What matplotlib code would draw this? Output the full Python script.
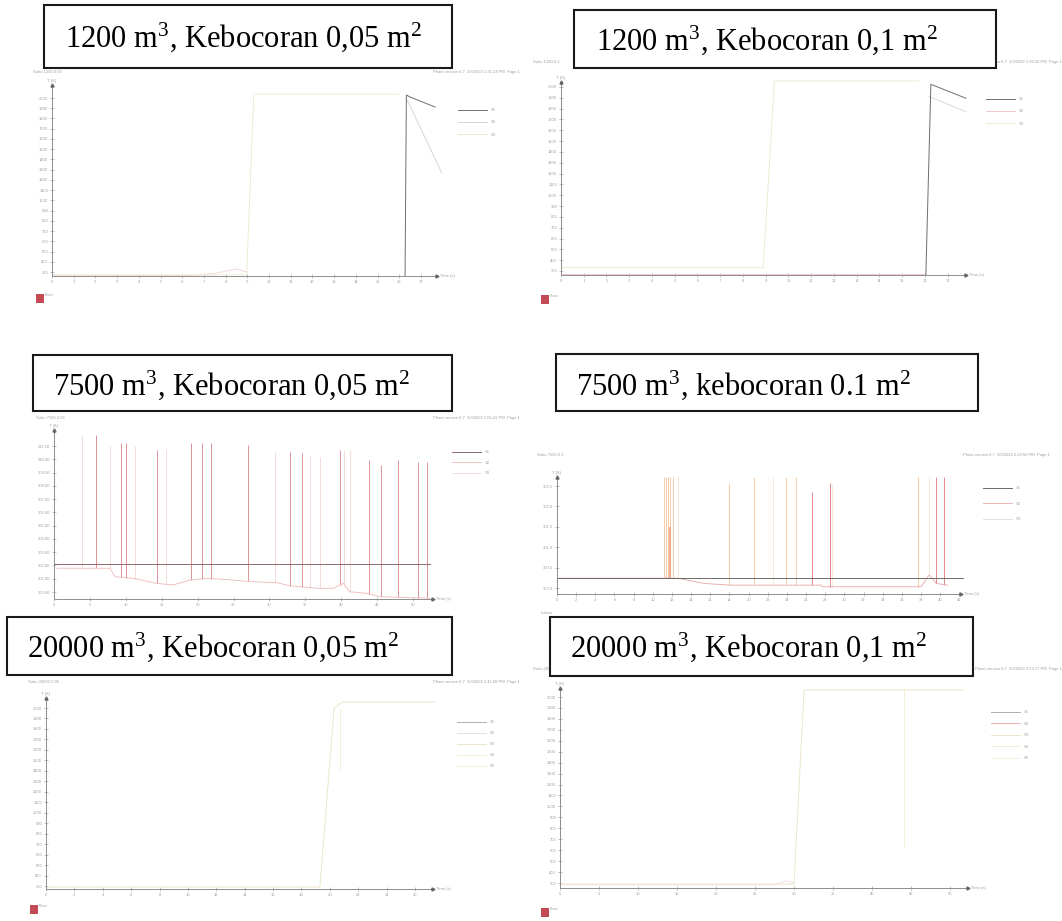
import matplotlib
matplotlib.use('Agg')
import matplotlib.pyplot as plt
from matplotlib.patches import Rectangle
import numpy as np

plt.rcParams['font.family'] = ['Liberation Sans', 'DejaVu Sans']
plt.rcParams['mathtext.fontset'] = 'custom'
plt.rcParams['mathtext.rm'] = 'Liberation Serif'
plt.rcParams['mathtext.it'] = 'Liberation Serif:italic'
plt.rcParams['mathtext.default'] = 'rm'

# ===================== DATA =====================
titles = [r"1200 m$^{\mathrm{3}}$, Kebocoran 0,05 m$^{\mathrm{2}}$",
          r"1200 m$^{\mathrm{3}}$, Kebocoran 0,1 m$^{\mathrm{2}}$",
          r"7500 m$^{\mathrm{3}}$, Kebocoran 0,05 m$^{\mathrm{2}}$",
          r"7500 m$^{\mathrm{3}}$, kebocoran 0.1 m$^{\mathrm{2}}$",
          r"20000 m$^{\mathrm{3}}$, Kebocoran 0,05 m$^{\mathrm{2}}$",
          r"20000 m$^{\mathrm{3}}$, Kebocoran 0,1 m$^{\mathrm{2}}$"]

temp_ticks = list(range(300, 2001, 100))

# Panel 1 : 1200 m3, 0,05 m2
p1_xticks = list(range(0, 18))
p1_s1_t = [16.27, 16.33, 16.5, 17.65]
p1_s1_T = [262, 2029, 2010, 1912]
p1_s2_t = [16.37, 17.96]
p1_s2_T = [1980, 1268]
p1_s3_t = [0, 8.97, 9.3, 16.0]
p1_s3_T = [272, 272, 2039, 2039]
p1_red_t = [0, 6.3, 7.5, 8.5, 9.0]
p1_red_T = [262, 265, 285, 330, 300]

# Panel 2 : 1200 m3, 0,1 m2
p2_xticks = list(range(0, 18))
p2_s1_t = [16.04, 16.26, 17.8]
p2_s1_T = [263, 2025, 1896]
p2_s2_t = [0, 16.0]
p2_s2_T = [272, 272]
p2_s3_t = [0, 8.89, 9.38, 15.75]
p2_s3_T = [330, 330, 2055, 2055]
p2_s3b_t = [16.19, 17.8]
p2_s3b_T = [1911, 1772]

# Panel 3 : 7500 m3, 0,05 m2
p3_xticks = list(range(0, 51, 5))
p3_yticks = list(range(300, 312))
p3_line_t = [0, 52.4]
p3_line_T = [302.1, 302.1]
p3_base_t = [0.4, 7.8, 8.5, 11.05, 14.3, 16.6, 18.9, 21.3, 25.0, 27.3, 31.0,
             32.9, 36.6, 38.9, 40.3, 41.2, 43.5, 45.4, 52.4]
p3_base_T = [301.79, 301.79, 301.15, 301.03, 300.65, 300.53, 300.9, 301.03,
             300.9, 300.78, 300.7, 300.47, 300.28, 300.28, 300.65, 300.02,
             299.9, 299.65, 299.53]
p3_spike_t = [5.85, 9.35, 10.05, 14.35, 19.1, 20.6, 21.85, 27.0, 32.85, 34.55,
              39.85, 43.9, 45.55, 47.9, 50.7, 51.95]
p3_spike_top = [311.83, 311.2, 311.2, 310.7, 311.2, 311.2, 311.2, 311.1,
                310.57, 310.45, 310.7, 309.95, 309.57, 309.95, 309.82, 309.82]
p3_faint_t = [3.9, 7.8, 11.3, 15.6, 30.8, 35.65, 37.05, 40.4, 41.25]
p3_faint_top = [311.83, 311.0, 311.0, 310.7, 310.57, 310.3, 310.2, 310.7, 310.7]

# Panel 4 : 7500 m3, 0.1 m2
p4_xticks = list(range(0, 43, 2))
p4_yticks = [300.0, 300.5, 301.0, 301.5, 302.0, 302.5]
p4_line_t = [0, 42.35]
p4_line_T = [300.245, 300.245]
p4_base_t = [0, 12.6, 15.4, 18.2, 27.6, 27.7, 38.0, 38.86, 39.6, 40.8]
p4_base_T = [300.24, 300.24, 300.11, 300.07, 300.07, 300.03, 300.03, 300.32,
             300.11, 300.07]
p4_orange_t = [11.14, 11.38, 11.62, 11.82, 12.06, 17.98, 20.52, 23.9, 25.0, 37.64]
p4_orange_top = [302.73, 302.73, 302.73, 302.73, 302.73, 302.57, 302.73,
                 302.73, 302.73, 302.73]
p4_red_t = [26.6, 28.48, 39.54, 40.42]
p4_red_top = [302.36, 302.57, 302.73, 302.73]
p4_faint_t = [12.6, 22.5, 28.76, 38.86]
p4_faint_top = [302.73, 302.73, 302.57, 302.73]
p4_dark_t = [11.82]
p4_dark_top = [301.5]

# Panel 5 : 20000 m3, 0,05 m2
p5_xticks = list(range(0, 27, 2))
p5_s3_t = [0, 19.3, 20.3, 20.9, 27.4]
p5_s3_T = [290, 290, 2000, 2057, 2057]
p5_s4_t = [20.7, 20.7]
p5_s4_T = [2000, 1408]

# Panel 6 : 20000 m3, 0,1 m2
p6_xticks = list(range(0, 51, 5))
p6_s3_t = [0, 30.0, 31.3, 51.8]
p6_s3_T = [290, 290, 2064, 2064]
p6_s4_t = [44.1, 44.1]
p6_s4_T = [2064, 632]
p6_red_t = [0, 27.5, 29.0, 30.0]
p6_red_T = [285, 285, 320, 300]

legend3 = ["S1", "S2", "S3"]
legend5 = ["S1", "S2", "S3", "S4", "S5"]

# ===================== LAYOUT =====================
W, H = 1062, 921
fig = plt.figure(figsize=(W / 100, H / 100), dpi=100)
fig.patch.set_facecolor('white')

AX_C = '#8e8e8e'
TXT_C = '#a0a0a0'
FS = 3.0


def fx(px):
    return px / W


def fy(py):
    return 1 - py / H


def make_panel(box, xcal, ycal, arrow_r, arrow_t, xticks, yticks, yfmt):
    left, top, right, bottom = box
    ax = fig.add_axes([fx(left), fy(bottom), fx(right) - fx(left), fy(top) - fy(bottom)])
    ax.patch.set_alpha(0)

    def xv(p):
        p0, v0, p1, v1 = xcal
        return v0 + (p - p0) * (v1 - v0) / (p1 - p0)

    def yv(p):
        p0, v0, p1, v1 = ycal
        return v0 + (p - p0) * (v1 - v0) / (p1 - p0)

    x0, x1 = xv(left), xv(right)
    y0, y1 = yv(bottom), yv(top)
    ax.set_xlim(x0, x1)
    ax.set_ylim(y0, y1)
    for s in ('top', 'right'):
        ax.spines[s].set_visible(False)
    for s in ('left', 'bottom'):
        ax.spines[s].set_color(AX_C)
        ax.spines[s].set_linewidth(0.7)
    ax.spines['left'].set_bounds(y0, yv(arrow_t))
    ax.spines['bottom'].set_bounds(x0, xv(arrow_r))
    ax.plot([xv(arrow_r)], [y0], marker='>', ms=2.2, color='#666', clip_on=False, zorder=5)
    ax.plot([x0], [yv(arrow_t)], marker='^', ms=2.2, color='#666', clip_on=False, zorder=5)
    ax.set_xticks(xticks)
    ax.set_xticklabels([str(v) for v in xticks])
    ax.set_yticks(yticks)
    ax.set_yticklabels([yfmt % v for v in yticks])
    ax.tick_params(labelsize=FS, colors=AX_C, labelcolor=TXT_C, length=2.5,
                   width=0.4, direction='inout', pad=1.5)
    ax.text(xv(arrow_r + 3), y0, 'Time (s)', fontsize=FS, color=TXT_C,
            va='center', ha='left', clip_on=False)
    ax.text(x0, yv(arrow_t - 2), 'T (K)', fontsize=FS, color=TXT_C,
            va='bottom', ha='center', clip_on=False)
    return ax


def title_box(x0, y0, x1, y1, tx, ty, text):
    fig.add_artist(Rectangle((fx(x0), fy(y1)), fx(x1) - fx(x0), fy(y0) - fy(y1),
                             transform=fig.transFigure, facecolor='white',
                             edgecolor='#1a1a1a', linewidth=1.5, zorder=10))
    fig.text(fx(tx), fy(ty), text, fontsize=22, family='Liberation Serif',
             color='black', ha='left', va='baseline', zorder=11)


def header(lx, rx, y, ltxt, rtxt):
    fig.text(fx(lx), fy(y), ltxt, fontsize=FS, color=TXT_C, ha='left', va='center', zorder=1)
    fig.text(fx(rx), fy(y), rtxt, fontsize=FS, color=TXT_C, ha='right', va='center', zorder=1)


def logo(x, y):
    fig.add_artist(Rectangle((fx(x), fy(y + 9)), fx(8), 9 / H, transform=fig.transFigure,
                             facecolor='#c24a55', edgecolor='none', zorder=2))
    fig.text(fx(x + 9), fy(y + 1), 'Phast', fontsize=2.4, color=TXT_C, va='center', zorder=2)


def legend(ax, handles, labels, x, y, spacing=2.0):
    ax.legend(handles, labels, loc='upper left', bbox_to_anchor=(fx(x), fy(y)),
              bbox_transform=fig.transFigure, frameon=False, fontsize=FS,
              labelcolor=TXT_C, handlelength=7, labelspacing=spacing,
              handletextpad=0.8, borderpad=0, borderaxespad=0)


LW = 0.7

# ---------- Panel 1 ----------
ax1 = make_panel((52, 78, 455, 276), (52, 0, 420.9, 17), (272, 300, 98, 2000),
                 437, 85, p1_xticks, temp_ticks, '%d')
ax1.plot(p1_red_t, p1_red_T, color='#f6d8d8', lw=LW)
h3, = ax1.plot(p1_s3_t, p1_s3_T, color='#efe9d2', lw=LW)
h2, = ax1.plot(p1_s2_t, p1_s2_T, color='#d6d6d6', lw=LW)
h1, = ax1.plot(p1_s1_t, p1_s1_T, color='#6e6e6e', lw=LW)
legend(ax1, [h1, h2, h3], legend3, 458, 108)
header(33, 520, 72, 'Suhu 1200-0.05', 'Phast version 6.7  3/3/2022 1:31:23 PM  Page 1')
logo(36, 294)

# ---------- Panel 2 ----------
ax2 = make_panel((561, 75, 975, 275), (561, 0, 947.7, 17), (271, 300, 87, 2000),
                 966, 82, p2_xticks, temp_ticks, '%d')
h2, = ax2.plot(p2_s2_t, p2_s2_T, color='#f3c8c8', lw=LW)
h3, = ax2.plot(p2_s3_t, p2_s3_T, color='#efe9d4', lw=LW)
ax2.plot(p2_s3b_t, p2_s3b_T, color='#dcdcd0', lw=LW)
h1, = ax2.plot(p2_s1_t, p2_s1_T, color='#6e6e6e', lw=LW)
legend(ax2, [h1, h2, h3], legend3, 986, 97)
header(533, 1062, 62, 'Suhu 1200-0.1', 'Phast version 6.7  3/3/2022 1:36:02 PM  Page 1')
logo(541, 295)

# ---------- Panel 3 ----------
ax3 = make_panel((54, 425, 440, 599), (54, 0, 413, 50), (592, 300, 446, 311),
                 433, 430, p3_xticks, p3_yticks, '%.2f')
ax3.vlines(p3_faint_t, np.interp(p3_faint_t, p3_base_t, p3_base_T), p3_faint_top,
           colors='#f5d6d2', lw=0.6)
ax3.vlines(p3_spike_t, np.interp(p3_spike_t, p3_base_t, p3_base_T), p3_spike_top,
           colors='#de9398', lw=0.7)
h2, = ax3.plot(p3_base_t, p3_base_T, color='#eeb8b8', lw=0.6)
h1, = ax3.plot(p3_line_t, p3_line_T, color='#8f6a6e', lw=LW)
h3, = ax3.plot([], [], color='#f0e0d8', lw=LW)
legend(ax3, [h1, h2, h3], legend3, 452, 450, spacing=1.6)
header(36, 520, 418, 'Suhu 7500-0.05', 'Phast version 6.7  3/3/2022 2:05:41 PM  Page 1')

# ---------- Panel 4 ----------
ax4 = make_panel((557, 470, 970, 594), (557, 0, 959.3, 42), (588, 300.0, 486, 302.5),
                 961, 477, p4_xticks, p4_yticks, '%.1f')
ax4.vlines(p4_faint_t, np.interp(p4_faint_t, p4_base_t, p4_base_T), p4_faint_top,
           colors='#f8e6d8', lw=0.6)
ax4.vlines(p4_orange_t, np.interp(p4_orange_t, p4_base_t, p4_base_T), p4_orange_top,
           colors='#f6cdaa', lw=0.7)
ax4.vlines(p4_dark_t, np.interp(p4_dark_t, p4_base_t, p4_base_T), p4_dark_top,
           colors='#efab88', lw=1.4)
ax4.vlines(p4_red_t, np.interp(p4_red_t, p4_base_t, p4_base_T), p4_red_top,
           colors='#e48888', lw=0.7)
h2, = ax4.plot(p4_base_t, p4_base_T, color='#e9a6a6', lw=0.6)
h1, = ax4.plot(p4_line_t, p4_line_T, color='#6a6a6a', lw=LW)
h3, = ax4.plot([], [], color='#e2e2e2', lw=LW)
legend(ax4, [h1, h2, h3], legend3, 983, 486, spacing=2.8)
header(537, 1050, 455, 'Suhu 7500-0.1', 'Phast version 6.7  3/3/2022 2:23:50 PM  Page 1')
fig.text(fx(541), fy(613), 'Lokasi', fontsize=FS, color=TXT_C, va='center', zorder=1)

# ---------- Panel 5 ----------
ax5 = make_panel((46, 692, 440, 889), (46, 0, 415, 26), (886, 300, 708, 2000),
                 433, 698, p5_xticks, temp_ticks, '%d')
h4, = ax5.plot(p5_s4_t, p5_s4_T, color='#f3efd8', lw=LW)
h3, = ax5.plot(p5_s3_t, p5_s3_T, color='#ece5c8', lw=LW)
h1, = ax5.plot([], [], color='#b0b0b0', lw=LW)
h2, = ax5.plot([], [], color='#e2e2e2', lw=LW)
h5, = ax5.plot([], [], color='#f4f0e0', lw=LW)
legend(ax5, [h1, h2, h3, h4, h5], legend5, 457, 720, spacing=1.7)
header(28, 520, 682, 'Suhu 20000-0.05', 'Phast version 6.7  3/3/2022 2:41:08 PM  Page 1')
logo(30, 905)

# ---------- Panel 6 ----------
ax6 = make_panel((560, 682, 975, 888), (560, 0, 950, 50), (883, 300, 697, 2000),
                 968, 688, p6_xticks, temp_ticks, '%d')
ax6.plot(p6_red_t, p6_red_T, color='#f5dcdc', lw=LW)
h4, = ax6.plot(p6_s4_t, p6_s4_T, color='#f3efd8', lw=LW)
h3, = ax6.plot(p6_s3_t, p6_s3_T, color='#ece5c8', lw=LW)
h1, = ax6.plot([], [], color='#b0b0b0', lw=LW)
h2, = ax6.plot([], [], color='#eab0b0', lw=LW)
h5, = ax6.plot([], [], color='#f4f0e0', lw=LW)
legend(ax6, [h1, h2, h3, h4, h5], legend5, 991, 710, spacing=1.8)
header(533, 1062, 669, 'Suhu 20000-0.1', 'Phast version 6.7  3/3/2022 2:52:17 PM  Page 1')
logo(541, 908)

# ---------- Title boxes ----------
title_box(44, 5, 452, 68, 65, 47, titles[0])
title_box(574, 10, 996, 68, 596, 50, titles[1])
title_box(33, 355, 452, 411, 53, 395, titles[2])
title_box(556, 354, 978, 411, 576, 395, titles[3])
title_box(7, 617, 452, 675, 27, 657, titles[4])
title_box(550, 617, 973, 676, 570, 657, titles[5])

fig.savefig('out.png', dpi=100, facecolor='white')
